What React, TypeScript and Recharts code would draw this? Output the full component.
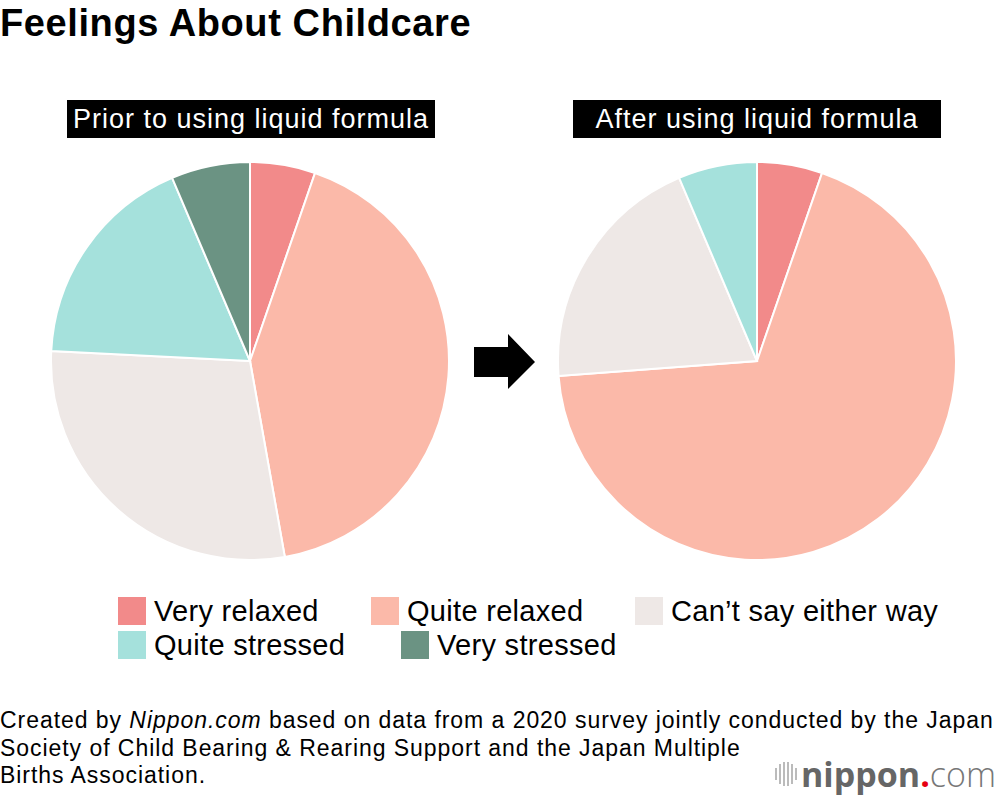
import React from "react";
import { Pie, PieChart, Cell } from "recharts";

const categories = ["Very relaxed", "Quite relaxed", "Can\u2019t say either way", "Quite stressed", "Very stressed"];
const colors = ["#F28A8A", "#FBB9A9", "#EEE8E6", "#A5E1DC", "#6B9383"];
const priorValues = [5.3, 41.9, 28.6, 17.8, 6.4];
const afterValues = [5.3, 68.5, 19.8, 6.4, 0];

const priorData = categories.map((name, i) => ({ name, value: priorValues[i], color: colors[i] }));
const afterData = categories
  .map((name, i) => ({ name, value: afterValues[i], color: colors[i] }))
  .filter((d) => d.value > 0);

const legendRows = [
  [
    { i: 0, x: 118 },
    { i: 1, x: 371 },
    { i: 2, x: 635 },
  ],
  [
    { i: 3, x: 118 },
    { i: 4, x: 401 },
  ],
];

const font = "'Liberation Sans', Arial, Helvetica, sans-serif";

function Label({ text, left }) {
  return (
    <div
      style={{
        position: "absolute",
        left,
        top: 100,
        width: 368,
        height: 38,
        background: "#000",
        color: "#fff",
        fontSize: 27,
        lineHeight: "38px",
        textAlign: "center",
        letterSpacing: 1,
      }}
    >
      {text}
    </div>
  );
}

export default function App() {
  return (
    <div
      style={{
        position: "absolute",
        left: 0,
        top: 0,
        width: 1000,
        height: 798,
        background: "#fff",
        fontFamily: font,
        overflow: "hidden",
      }}
    >
      <div style={{ position: "absolute", left: 0, top: 2, fontSize: 38, fontWeight: "bold", color: "#000", letterSpacing: 0.6 }}>
        Feelings About Childcare
      </div>

      <Label text="Prior to using liquid formula" left={67} />
      <Label text="After using liquid formula" left={573} />

      <div style={{ position: "absolute", left: 0, top: 140 }}>
        <PieChart width={1000} height={440} margin={{ top: 0, right: 0, bottom: 0, left: 0 }}>
          <Pie
            data={priorData}
            dataKey="value"
            nameKey="name"
            cx={250}
            cy={221}
            outerRadius={199}
            startAngle={90}
            endAngle={-270}
            stroke="#fff"
            strokeWidth={2}
            isAnimationActive={false}
          >
            {priorData.map((d) => (
              <Cell key={d.name} fill={d.color} />
            ))}
          </Pie>
          <Pie
            data={afterData}
            dataKey="value"
            nameKey="name"
            cx={757}
            cy={221}
            outerRadius={199}
            startAngle={90}
            endAngle={-270}
            stroke="#fff"
            strokeWidth={2}
            isAnimationActive={false}
          >
            {afterData.map((d) => (
              <Cell key={d.name} fill={d.color} />
            ))}
          </Pie>
        </PieChart>
      </div>

      <svg style={{ position: "absolute", left: 0, top: 0 }} width={1000} height={798} pointerEvents="none">
        <polygon points="474,347 508,347 508,334 535,362 508,389 508,377 474,377" fill="#000" />
      </svg>

      {legendRows.map((row, r) =>
        row.map(({ i, x }) => (
          <div key={i} style={{ position: "absolute", left: x, top: 597 + r * 34, height: 28, display: "flex", alignItems: "center" }}>
            <div style={{ width: 28, height: 28, background: colors[i] }} />
            <span style={{ marginLeft: 8, fontSize: 29, letterSpacing: 0.3, color: "#000", whiteSpace: "nowrap" }}>{categories[i]}</span>
          </div>
        ))
      )}

      <div style={{ position: "absolute", left: 0, top: 707, fontSize: 23, lineHeight: "27.5px", letterSpacing: 0.95, color: "#000", whiteSpace: "nowrap" }}>
        Created by <i>Nippon.com</i> based on data from a 2020 survey jointly conducted by the Japan
        <br />
        Society of Child Bearing &amp; Rearing Support and the Japan Multiple
        <br />
        Births Association.
      </div>

      <div style={{ position: "absolute", left: 775, top: 756, height: 36, display: "flex", alignItems: "center" }}>
        <svg width={24} height={24}>
          {[0, 4, 8, 12, 16, 20].map((x, k) => (
            <rect key={k} x={x} y={[6, 2, 0, 0, 2, 6][k]} width={2} height={24 - 2 * [6, 2, 0, 0, 2, 6][k]} fill="#bbb" />
          ))}
        </svg>
        <span style={{ marginLeft: 2, fontSize: 34, fontFamily: "'Open Sans', sans-serif", color: "#666", whiteSpace: "nowrap" }}>
          <span style={{ fontWeight: 700 }}>nippon</span>
          <span style={{ color: "#e60012", fontWeight: 700 }}>.</span>
          <span style={{ fontWeight: 300, color: "#777" }}>com</span>
        </span>
      </div>
    </div>
  );
}
